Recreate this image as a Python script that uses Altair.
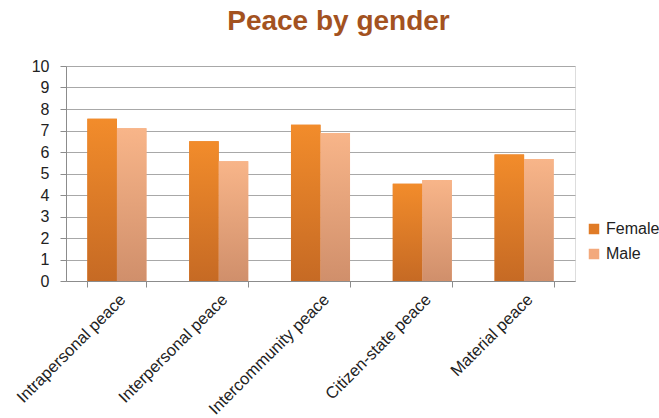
import altair as alt
import pandas as pd

categories = ["Intrapersonal peace", "Interpersonal peace", "Intercommunity peace",
              "Citizen-state peace", "Material peace"]
female = [7.55, 6.5, 7.27, 4.52, 5.88]
male = [7.1, 5.57, 6.88, 4.7, 5.68]
series = ["Female", "Male"]

rows = []
for c, f, m in zip(categories, female, male):
    rows.append({"cat": c, "gender": "Female", "value": f})
    rows.append({"cat": c, "gender": "Male", "value": m})
df = pd.DataFrame(rows)

FONT = "Liberation Sans"

x = alt.X("cat:N", sort=categories, title=None,
          scale=alt.Scale(paddingInner=0.42, paddingOuter=0.21),
          axis=alt.Axis(labelAngle=-45, labelFontSize=16.5, labelFont=FONT, labelColor="#222222",
                        tickBand="extent", tickSize=6, tickColor="#8c8c8c",
                        domainColor="#8c8c8c", labelPadding=4, labelLimit=300))
y = alt.Y("value:Q", title=None,
          scale=alt.Scale(domain=[0, 10]),
          axis=alt.Axis(values=list(range(0, 11)), labelFontSize=16, labelFont=FONT,
                        labelColor="#222222", tickSize=6, tickColor="#8c8c8c",
                        domainColor="#8c8c8c", gridColor="#a8a8a8", labelPadding=11))
xo = alt.XOffset("gender:N", sort=series)

base = alt.Chart(df)

solid = base.mark_bar().encode(
    x=x, y=y, xOffset=xo,
    color=alt.Color("gender:N", sort=series,
                    scale=alt.Scale(domain=series, range=["#e07b26", "#f3a97c"]),
                    legend=alt.Legend(title=None, orient="none", legendX=520, legendY=155,
                                      labelFontSize=16, labelFont=FONT, labelColor="#222222",
                                      symbolType="square", symbolSize=110, rowPadding=9,
                                      symbolStrokeWidth=0))
)

grad_f = base.transform_filter(alt.datum.gender == "Female").mark_bar(
    color=alt.Gradient(gradient="linear", x1=0, y1=0, x2=0, y2=1,
                       stops=[alt.GradientStop(color="#f28c2b", offset=0),
                              alt.GradientStop(color="#c66a24", offset=1)])
).encode(x=x, y=y, xOffset=xo)

grad_m = base.transform_filter(alt.datum.gender == "Male").mark_bar(
    color=alt.Gradient(gradient="linear", x1=0, y1=0, x2=0, y2=1,
                       stops=[alt.GradientStop(color="#f8b589", offset=0),
                              alt.GradientStop(color="#d08f6b", offset=1)])
).encode(x=x, y=y, xOffset=xo)

chart = alt.layer(solid, grad_f, grad_m).properties(
    width=509, height=215,
    title=alt.TitleParams("Peace by gender", font=FONT, fontSize=28, fontWeight="bold",
                          color="#a3521f", anchor="middle", dx=18, offset=22),
    autosize=alt.AutoSizeParams(type="none"),
    padding={"left": 66, "top": 66, "right": 84, "bottom": 137},
).configure_view(stroke=None).configure(background="white")

chart.save("out.html", embed_options={"renderer": "svg", "actions": False})
